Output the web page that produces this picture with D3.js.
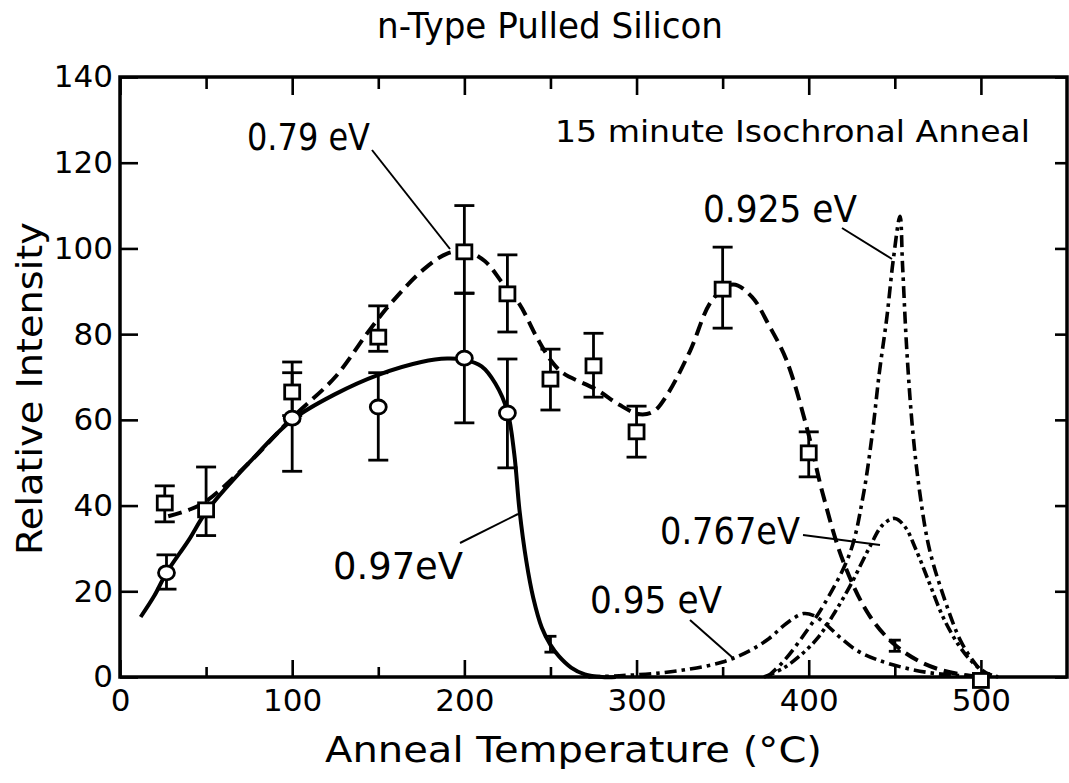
<!DOCTYPE html>
<html><head><meta charset="utf-8">
<script src="https://cdn.jsdelivr.net/npm/d3@7"></script>
<style>
html,body{margin:0;padding:0;background:#fff;}
svg{display:block;}
text{font-family:"DejaVu Sans",sans-serif;fill:#000;}
</style></head>
<body>
<svg id="chart" width="1069" height="783"></svg>
<script>
// ---------- data ----------
const xTicksMajor = [0,100,200,300,400,500];
const xTicksMinor = [50,150,250,350,450];
const yTicks = [0,20,40,60,80,100,120,140];

// 0.79 eV squares
const sqT  = [26, 50, 100, 150, 200, 225, 250, 275, 300, 350, 400, 500];
const sqV  = [40.6, 39, 66.5, 79.3, 99.2, 89.4, 69.5, 72.6, 57.2, 90.5, 52.3, -0.8];
const sqLo = [36.2, 33, 61, 76, 89.5, 80.5, 62.3, 65.3, 51.3, 81.4, 46.7, null];
const sqHi = [44.6, 49, 73.5, 86.6, 110, 98.5, 76.5, 80.2, 63.2, 100.3, 57.2, null];

// 0.97 eV circles
const ciT  = [27, 100, 150, 200, 225];
const ciV  = [24.3, 60.4, 63, 74.4, 61.6];
const ciLo = [20.5, 48, 50.6, 59.3, 48.8];
const ciHi = [28.5, 71, 71, 89.6, 74.2];

// bare error bars
const barT  = [250, 450];
const barLo = [5.8, 6.0];
const barHi = [9.5, 8.6];

// curves
const c097T = [12,20,27,40,50,75,100,125,150,175,190,200,210,218,225,229,232,236,240,245,250,255,262,270,280,288];
const c097V = [14,19,24.3,32,38.5,50,60,66,70.5,73.5,74.3,74,72.5,68.5,62,52,39,27,18.5,11.5,7.5,4.8,2.2,0.6,0,0];

const c079T = [28,40,50,75,100,125,145,158,176,190,201,212,222,232,242,250,257,277,290,302,310,318,331,344,356,367,377,387,399,408,420,435,450,465,478,490,502];
const c079V = [37.5,39,41,50,60.5,70,81,87.5,95,98.8,99.3,97,92,87,79.3,74,71,67,63.5,61.3,62,66,76,88,91.6,88.7,82,74,58,43,27,14.5,7.5,3.5,1.5,0.5,0];

const c095T = [272,290,310,330,350,365,377,387,397,403,410,418,428,440,455,470,485,500];
const c095V = [0,0.3,0.8,1.8,3.5,6,9,12.5,14.8,14.3,12.3,9.3,6.2,4,2.2,1,0.4,0];

const c0925T = [376,385,395,409,424,431.5,437,441,445.4,449,453,454.5,457,460.5,464.5,470,479,488,495,502];
const c0925V = [0,3.5,8.6,17,29,42,57,71,84,97,107.5,96,76,57,43,30,18,8.6,4,0.5];

const c0767T = [374,385,395,405,415,425,435,443,450,456,462,470,478,487,495,503,510];
const c0767V = [0,2,5,9,15,22,30,35.5,37,35,30,22,14,7.5,3.5,1,0];

// ---------- layout ----------
const svg = d3.select("#chart");
const x = d3.scaleLinear().domain([0,550]).range([120,1067]);
const y = d3.scaleLinear().domain([0,140]).range([677,77]);

const AX = 3.5;

// axes
const gB = svg.append("g").attr("transform",`translate(0,${y(0)})`)
  .call(d3.axisBottom(x).tickValues(xTicksMajor).tickSizeInner(-17).tickSizeOuter(0).tickPadding(12).tickFormat(d3.format("d")));
const gBm = svg.append("g").attr("transform",`translate(0,${y(0)})`)
  .call(d3.axisBottom(x).tickValues(xTicksMinor).tickSizeInner(-10).tickSizeOuter(0).tickFormat(""));
const gT = svg.append("g").attr("transform",`translate(0,${y(140)})`)
  .call(d3.axisTop(x).tickValues(xTicksMajor).tickSizeInner(-18).tickSizeOuter(0).tickFormat(""));
const gTm = svg.append("g").attr("transform",`translate(0,${y(140)})`)
  .call(d3.axisTop(x).tickValues(xTicksMinor).tickSizeInner(-12).tickSizeOuter(0).tickFormat(""));
const gL = svg.append("g").attr("transform",`translate(${x(0)},0)`)
  .call(d3.axisLeft(y).tickValues(yTicks).tickSizeInner(-18).tickSizeOuter(0).tickPadding(7).tickFormat(d3.format("d")));
const gR = svg.append("g").attr("transform",`translate(${x(550)},0)`)
  .call(d3.axisRight(y).tickValues(yTicks).tickSizeInner(-12).tickSizeOuter(0).tickFormat(""));

svg.selectAll(".domain").remove();
svg.selectAll(".tick line").attr("stroke","#000").attr("stroke-width",2.6);
gB.selectAll("text").style("font-size","31px").attr("fill","#000");
gL.selectAll("text").style("font-size","31px").attr("fill","#000");

// frame
svg.append("rect").attr("x",x(0)).attr("y",y(140)).attr("width",x(550)-x(0)).attr("height",y(0)-y(140))
  .attr("fill","none").attr("stroke","#000").attr("stroke-width",AX);

// curves
const line = d3.line().x(d=>x(d[0])).y(d=>y(d[1])).curve(d3.curveCatmullRom.alpha(0.5));
function curve(T,V,dash,w){
  svg.append("path").datum(T.map((t,i)=>[t,V[i]])).attr("d",line)
    .attr("fill","none").attr("stroke","#000").attr("stroke-width",w)
    .attr("stroke-dasharray",dash).attr("stroke-linecap","butt");
}
curve(c097T,c097V,null,4);
curve(c079T,c079V,"14,7",4);
curve(c095T,c095V,"12,5,3.5,5",3.6);
curve(c0925T,c0925V,"12,5,3.5,5",3.6);
curve(c0767T,c0767V,"11,4,3.5,4,3.5,4",3.6);

// error bars
function ebar(t,lo,hi,cap){
  if(lo==null) return;
  const g = svg.append("g").attr("stroke","#000").attr("stroke-width",2.8);
  g.append("line").attr("x1",x(t)).attr("x2",x(t)).attr("y1",y(lo)).attr("y2",y(hi));
  g.append("line").attr("x1",x(t)-cap/2).attr("x2",x(t)+cap/2).attr("y1",y(lo)).attr("y2",y(lo));
  g.append("line").attr("x1",x(t)-cap/2).attr("x2",x(t)+cap/2).attr("y1",y(hi)).attr("y2",y(hi));
}
sqT.forEach((t,i)=>ebar(t,sqLo[i],sqHi[i],20));
ciT.forEach((t,i)=>ebar(t,ciLo[i],ciHi[i],20));
barT.forEach((t,i)=>ebar(t,barLo[i],barHi[i],12));

// markers
svg.append("g").selectAll("rect").data(sqT.map((t,i)=>[t,sqV[i]])).join("rect")
  .attr("x",d=>x(d[0])-7.5).attr("y",d=>y(d[1])-7).attr("width",15).attr("height",14)
  .attr("fill","#fff").attr("stroke","#000").attr("stroke-width",2.8);
svg.append("g").selectAll("ellipse").data(ciT.map((t,i)=>[t,ciV[i]])).join("ellipse")
  .attr("cx",d=>x(d[0])).attr("cy",d=>y(d[1])).attr("rx",8).attr("ry",7)
  .attr("fill","#fff").attr("stroke","#000").attr("stroke-width",2.8);

// leader lines
const leaders = [[372,150,450,249],[842,228,892,259],[803,535,880,545],[460,543,518,514],[690,620,733,658]];
svg.append("g").selectAll("line").data(leaders).join("line")
  .attr("x1",d=>d[0]).attr("y1",d=>d[1]).attr("x2",d=>d[2]).attr("y2",d=>d[3])
  .attr("stroke","#000").attr("stroke-width",2);

// texts
function txt(s,xx,yy,size,len,anchor,rot){
  const t = svg.append("text").attr("x",xx).attr("y",yy).style("font-size",size+"px")
    .attr("text-anchor",anchor||"start").text(s);
  if(len) t.attr("textLength",len).attr("lengthAdjust","spacingAndGlyphs");
  if(rot) t.attr("transform",`rotate(${rot},${xx},${yy})`);
  return t;
}
txt("n-Type Pulled Silicon",377,38,35,346);
txt("15 minute Isochronal Anneal",555,142,30,475);
txt("0.79 eV",247,150,38,123);
txt("0.925 eV",703,222,38,154);
txt("0.767eV",660,544,38,140);
txt("0.97eV",333,579,38,130);
txt("0.95 eV",590,613,38,132);
txt("Anneal Temperature (°C)",325,762,36,497);
txt("Relative Intensity",42,555,36,333,"start",-90);
</script>
</body></html>
